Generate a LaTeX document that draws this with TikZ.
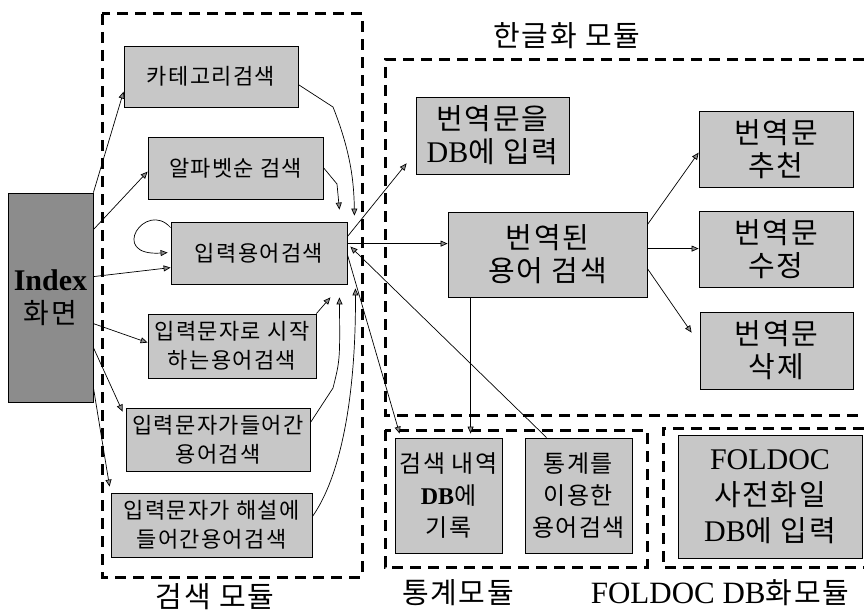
\documentclass[tikz,border=0pt]{standalone}
\usepackage{fontspec}
\setmainfont{Liberation Serif}
\newfontfamily\hangul[LetterSpace=6]{Noto Sans CJK KR}
\usetikzlibrary{arrows.meta,calc}
\begin{document}
\begin{tikzpicture}[x=1pt,y=-1pt,
  box/.style={draw=black, line width=0.8pt, fill=black!22, inner sep=0pt, align=center, text=black},
  lbox/.style={box, font=\hangul\fontsize{22}{29}\selectfont},
  rbox/.style={box, font=\hangul\fontsize{29}{33}\selectfont},
  sbox/.style={box, font=\hangul\fontsize{24}{32}\selectfont},
  arr/.style={-{Triangle[length=7pt,width=6pt,fill=black!45]}, line width=0.7pt},
  modline/.style={line width=3pt, dash pattern=on 11pt off 7pt},
  modlabel/.style={font=\hangul\fontsize{29}{30}\selectfont, inner sep=0pt}]
\useasboundingbox (0,0) rectangle (864,615);

% module frames
\draw[modline] (102,14) rectangle (362,577);
\draw[modline] (864,60) -- (385,60) -- (385,415) -- (864,415);
\draw[modline] (385,430) rectangle (647,567);
\draw[modline] (864,428) -- (663,428) -- (663,567) -- (864,567);

\node[modlabel] (lsearch) at (215,597) {검색 모듈};
\node[modlabel] (lkor) at (567,36) {한글화 모듈};
\node[modlabel] (lstat) at (458,593) {통계모듈};
\node[modlabel] (lfol) at (720,593) {{\rmfamily\fontsize{31}{30}\selectfont FOLDOC DB}화모듈};

% boxes
\node[box, fill=black!45, minimum width=85pt, minimum height=209pt, font=\rmfamily\fontsize{30}{33}\selectfont] (idx) at (50.5,297.5)
  {\textbf{Index}\\{\hangul\fontsize{28}{33}\selectfont 화면}};
\node[lbox, minimum width=174pt, minimum height=61pt] (cat) at (211,76.5) {카테고리검색};
\node[lbox, minimum width=175pt, minimum height=62pt] (alp) at (235.5,168) {알파벳순 검색};
\node[lbox, minimum width=176pt, minimum height=62pt] (inp) at (259,253) {입력용어검색};
\node[lbox, minimum width=168pt, minimum height=64pt] (sta) at (232,346) {입력문자로 시작\\하는용어검색};
\node[lbox, minimum width=184pt, minimum height=63pt] (con) at (218,439.5) {입력문자가들어간\\용어검색};
\node[lbox, minimum width=201pt, minimum height=64pt] (des) at (211.5,525) {입력문자가 해설에\\들어간용어검색};

\node[rbox, minimum width=153pt, minimum height=77pt] (tdb) at (492.5,135.5) {번역문을\\{\rmfamily\fontsize{30}{33}\selectfont DB}에 입력};
\node[rbox, minimum width=199pt, minimum height=85pt] (trs) at (547.5,254.5) {번역된\\용어 검색};
\node[rbox, minimum width=154pt, minimum height=76pt] (rec) at (776,149) {번역문\\추천};
\node[rbox, minimum width=154pt, minimum height=76pt] (mdf) at (776,249) {번역문\\수정};
\node[rbox, minimum width=153pt, minimum height=77pt] (del) at (776.5,350.5) {번역문\\삭제};

\node[sbox, minimum width=107pt, minimum height=115pt] (log) at (448.5,495.5) {검색 내역\\{\rmfamily\bfseries DB}에\\기록};
\node[sbox, minimum width=107pt, minimum height=115pt] (sts) at (578.5,495.5) {통계를\\이용한\\용어검색};
\node[rbox, minimum width=184pt, minimum height=123pt, font=\hangul\fontsize{29}{36}\selectfont] (fol) at (770,496.5)
  {{\rmfamily\fontsize{30}{36}\selectfont FOLDOC}\\사전화일\\{\rmfamily\fontsize{30}{36}\selectfont DB}에 입력};

% connectors from Index
\draw[arr] (idx.north east) -- ([yshift=-46pt]cat.north west);
\draw[arr] ([yshift=-37pt]idx.north east) -- ([yshift=-35pt]alp.north west);
\draw[arr] ([yshift=-84pt]idx.north east) -- ([yshift=-46pt]inp.north west);
\draw[arr] ([yshift=-131pt]idx.north east) -- ([yshift=-29pt]sta.north west);
\draw[arr] ([yshift=-155pt]idx.north east) -- ([xshift=-3pt,yshift=-4pt]con.north west);
\draw[arr] ([yshift=-195pt]idx.north east) -- ([xshift=-1pt,yshift=6pt]des.north west);

% self loop
\draw[arr] ([yshift=-6pt]inp.north west) .. controls +(-25,-28) and +(-60,4) .. ([xshift=-3pt,yshift=-31pt]inp.north west);

% into 입력용어검색 from above
\draw[arr] ([yshift=-39pt]cat.north east) -- (333,107) .. controls (350,150) and (354,180) .. ([xshift=7pt,yshift=6pt]inp.north east);
\draw[arr] ([yshift=-31pt]alp.north east) -- (337,184) -- ([xshift=-8pt,yshift=12pt]inp.north east);

% into 입력용어검색 from below
\draw[arr] (sta.north east) -- ([xshift=-17pt,yshift=-13pt]inp.south east);
\draw[arr] ([yshift=-15pt]con.north east) -- (333,388) .. controls (340,360) .. ([xshift=-8pt,yshift=-13pt]inp.south east);
\draw[arr] ([yshift=-24pt]des.north east) .. controls (345,470) and (356,380) .. ([xshift=8pt,yshift=-4pt]inp.south east);

% out of 입력용어검색
\draw[arr] ([yshift=-15pt]inp.north east) -- ([xshift=-9pt,yshift=11pt]tdb.south west);
\draw[arr] ([yshift=-22pt]inp.north east) -- ([yshift=-32pt]trs.north west);
\draw[arr] ([yshift=-33pt]inp.north east) -- ([xshift=5pt,yshift=4pt]log.north west);
\draw[arr] ([xshift=22pt]sts.north west) -- ([xshift=3pt,yshift=-25pt]inp.north east);

% out of 번역된 용어 검색
\draw[arr] ([xshift=23pt]trs.south west) -- ([xshift=76pt,yshift=4pt]log.north west);
\draw[arr] ([yshift=-13pt]trs.north east) -- ([yshift=-42pt]rec.north west);
\draw[arr] ([yshift=-37pt]trs.north east) -- ([yshift=-38pt]mdf.north west);
\draw[arr] ([yshift=-57pt]trs.north east) -- ([xshift=-8pt,yshift=-21pt]del.north west);
\end{tikzpicture}
\end{document}
